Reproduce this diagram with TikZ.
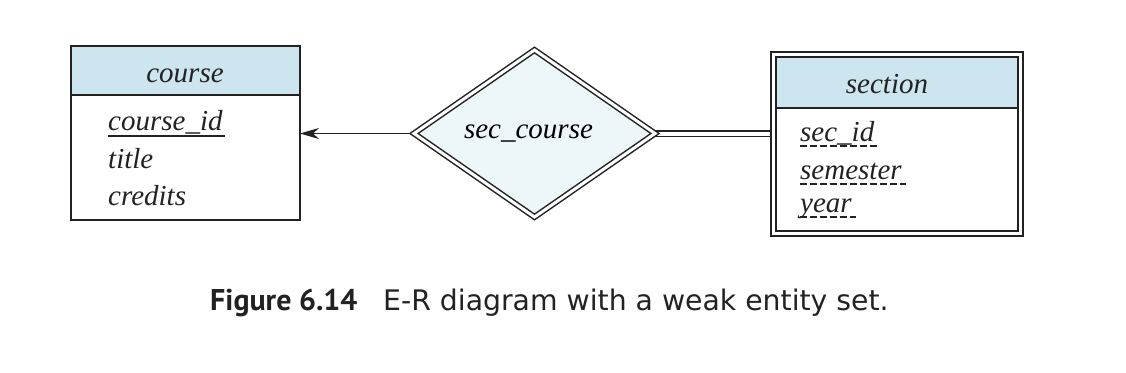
\documentclass[tikz,border=0pt]{standalone}
\usepackage{fontspec}
\setmainfont{Liberation Serif}
\newfontfamily\capfont{DejaVu Sans}
\newfontfamily\fignumfont{PT Sans}
\usepackage{tikz}
\usetikzlibrary{arrows.meta,positioning,shapes.geometric,fit,backgrounds}
\definecolor{hdrblue}{HTML}{CDE5EF}
\definecolor{relblue}{HTML}{EDF6F9}
\definecolor{ink}{HTML}{222222}

\begin{document}
\begin{tikzpicture}[x=1pt,y=-1pt,
  ent/.style={draw=ink,line width=1.5pt,inner sep=0pt,outer sep=0pt},
  hdr/.style={ent,fill=hdrblue},
  lab/.style={font=\fontsize{29}{34}\selectfont\itshape,color=ink,inner sep=0pt},
  attr/.style={lab,anchor=base west},
  rel/.style={diamond,draw=ink,double,double distance=3pt,line width=1.5pt,fill=relblue,
    minimum width=241pt,minimum height=167pt,aspect=1.44,inner sep=0pt,outer sep=0pt,
    font=\fontsize{29}{34}\selectfont\itshape},
  key/.style={line width=1.2pt,color=ink},
  pkey/.style={key,dash pattern=on 6.5pt off 3.5pt},
  conn/.style={line width=1.3pt,color=ink},
  captext/.style={inner sep=0pt,anchor=base west,color=ink}]
\useasboundingbox (0,0) rectangle (1126,372);
% strong entity set
\node[hdr,minimum width=229pt,minimum height=49pt] (course) at (185.5,70.5) {};
\node[ent,minimum width=229pt,minimum height=125pt,below=0pt of course] (coursebody) {};
\node[lab,anchor=base] (coursename) at (185,82) {course};
\node[attr] (cid) at (108,130) {course\_id};
\node[attr] (ctitle) at (108,168) {title};
\node[attr] (ccred) at (108,205) {credits};
\draw[key] ([yshift=-6pt]cid.base west) -- ([yshift=-6pt,xshift=2pt]cid.base east);
% identifying relationship
\node[rel] (seccourse) at (534.5,133.5) {sec\_course\hspace*{12pt}};
% weak entity set
\node[hdr,minimum width=242pt,minimum height=51pt] (section) at (897,82.5) {};
\node[ent,minimum width=242pt,minimum height=123pt,below=0pt of section] (sectionbody) {};
\node[ent,double,double distance=3.5pt,fit=(section)(sectionbody),inner sep=2.5pt] (sectionframe) {};
\node[lab,anchor=base] (sectionname) at (887,93) {section};
\node[attr] (sid) at (800,141) {sec\_id};
\node[attr] (ssem) at (800,179) {semester};
\node[attr] (syear) at (800,212) {year};
\foreach \a in {sid,ssem,syear}
  \draw[pkey] ([yshift=-5pt]\a.base west) -- ([yshift=-5pt,xshift=4pt]\a.base east);
% connectors
\begin{scope}[on background layer]
\draw[conn,-{Stealth[length=19pt,width=11pt,inset=6pt]}] (seccourse.west) -- (coursebody.east |- seccourse.west);
\draw[conn,double,double distance=4pt] (seccourse.east) -- (sectionbody.west |- seccourse.east);
\end{scope}
% caption
\node[captext,font=\fontsize{30}{36}\selectfont\fignumfont\bfseries] (fignum) at (210,310) {Figure 6.14};
\node[captext,font=\fontsize{28.3}{34}\selectfont\capfont] (figtext) at (383,310) {E-R diagram with a weak entity set.};
\end{tikzpicture}
\end{document}
